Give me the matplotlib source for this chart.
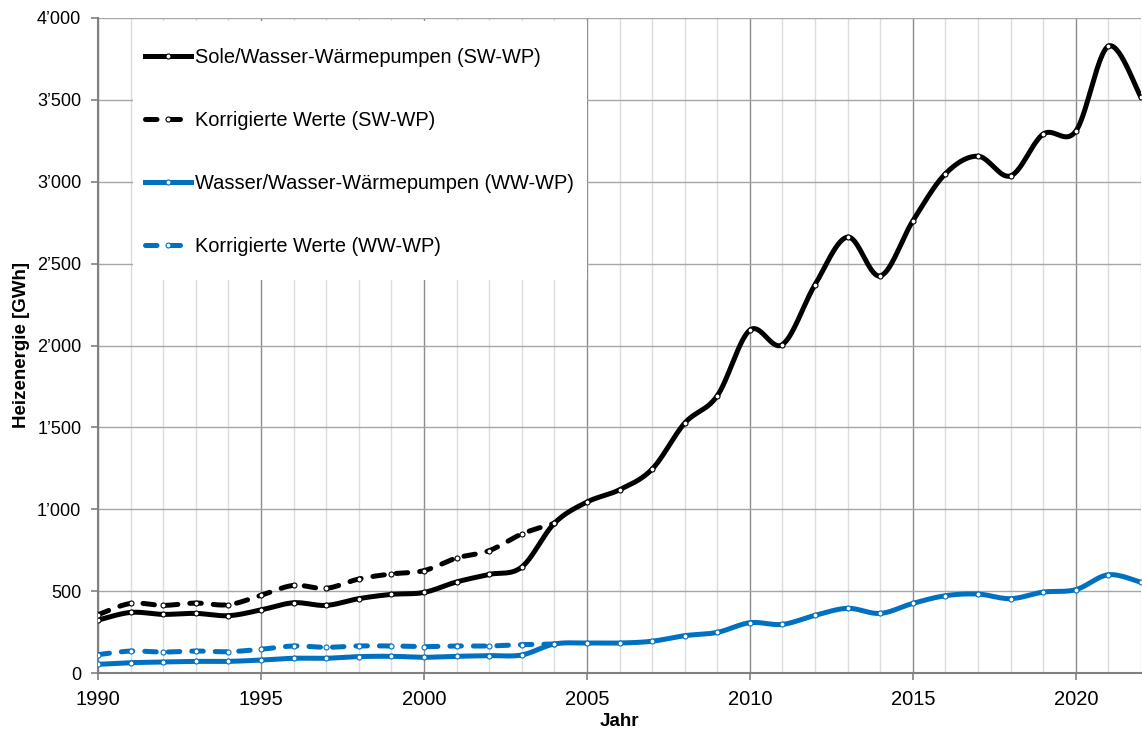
import numpy as np
import matplotlib
matplotlib.use('Agg')
import matplotlib.pyplot as plt
from matplotlib.lines import Line2D
from matplotlib.patches import Rectangle
from matplotlib.ticker import FuncFormatter, MultipleLocator

plt.rcParams['font.family'] = ['Liberation Sans', 'DejaVu Sans']

years = list(range(1990, 2023))
years_corr = list(range(1990, 2005))

# heating energy in GWh
sw = [323, 370, 358, 364, 350, 385, 429, 413, 454, 480, 492, 556, 602, 647, 914,
      1044, 1119, 1245, 1526, 1693, 2094, 2006, 2372, 2662, 2425, 2761, 3049,
      3156, 3036, 3291, 3309, 3828, 3517]
sw_corr = [356, 425, 413, 427, 417, 474, 535, 517, 574, 605, 625, 702, 747, 849, 914]
ww = [53, 63, 67, 71, 71, 79, 90, 90, 100, 102, 96, 102, 106, 110, 177, 183, 183,
      194, 228, 248, 307, 297, 352, 395, 364, 425, 472, 482, 454, 494, 509, 600, 554]
ww_corr = [112, 134, 128, 134, 130, 145, 165, 157, 165, 165, 161, 165, 165, 173, 177]

labels = ['Sole/Wasser-Wärmepumpen (SW-WP)', 'Korrigierte Werte (SW-WP)',
          'Wasser/Wasser-Wärmepumpen (WW-WP)', 'Korrigierte Werte (WW-WP)']

BLUE = '#0070C0'


def smooth(x, y, n=40):
    # Excel-like smoothed line: cubic bezier, control points from neighbours
    x = np.asarray(x, float)
    y = np.asarray(y, float)
    px = np.concatenate([[x[0]], x, [x[-1]]])
    py = np.concatenate([[y[0]], y, [y[-1]]])
    t = np.linspace(0, 1, n)[:, None]
    out = []
    for i in range(len(x) - 1):
        p0 = np.array([x[i], y[i]])
        p3 = np.array([x[i + 1], y[i + 1]])
        prev = np.array([px[i], py[i]])
        nxt = np.array([px[i + 3], py[i + 3]])
        c1 = p0 + (p3 - prev) / 6
        c2 = p3 - (nxt - p0) / 6
        seg = ((1 - t) ** 3) * p0 + 3 * ((1 - t) ** 2) * t * c1 + 3 * (1 - t) * t ** 2 * c2 + t ** 3 * p3
        out.append(seg if i == 0 else seg[1:])
    out = np.vstack(out)
    return out[:, 0], out[:, 1]


fig = plt.figure(figsize=(11.42, 7.33), dpi=100)
ax = fig.add_axes([98 / 1142, 60 / 733, 1043 / 1142, 655 / 733])

dash = (2.3, 2.4)
series = [
    (years, sw, 'black', '-'),
    (years_corr, sw_corr, 'black', '--'),
    (years, ww, BLUE, '-'),
    (years_corr, ww_corr, BLUE, '--'),
]
handles = []
for (x, y, c, ls), lab in zip(series, labels):
    sx, sy = smooth(x, y)
    line, = ax.plot(sx, sy, color=c, lw=3.6, solid_capstyle='round', zorder=3)
    if ls == '--':
        line.set_dashes(dash)
        line.set_dash_capstyle('round')
    ax.plot(x, y, ls='none', marker='o', ms=3.6, mfc='white', mec=c, mew=0.8, zorder=4)
    h = Line2D([], [], color=c, lw=3.6, marker='o', ms=3.6, mfc='white', mec=c, mew=0.8)
    if ls == '--':
        h.set_dashes(dash)
        h.set_dash_capstyle('round')
    handles.append(h)

ax.set_xlim(1990, 2022)
ax.set_ylim(0, 4000)
ax.xaxis.set_major_locator(MultipleLocator(5))
ax.xaxis.set_minor_locator(MultipleLocator(1))
ax.yaxis.set_major_locator(MultipleLocator(500))
ax.yaxis.set_major_formatter(FuncFormatter(lambda v, p: '{:,.0f}'.format(v).replace(',', '\u2019')))

ax.set_axisbelow(True)
ax.grid(which='major', axis='x', color='#8c8c8c', lw=1.0)
ax.grid(which='minor', axis='x', color='#dcdcdc', lw=1.0)
ax.grid(which='major', axis='y', color='#a6a6a6', lw=1.0)

for s in ['top', 'right']:
    ax.spines[s].set_visible(False)
for s in ['left', 'bottom']:
    ax.spines[s].set_color('#808080')
    ax.spines[s].set_linewidth(1.5)

ax.tick_params(which='major', direction='out', length=5, width=1.2, color='#808080',
               labelcolor='black')
ax.tick_params(axis='x', which='major', labelsize=14.5, pad=7)
ax.tick_params(axis='y', which='major', labelsize=13, pad=7)
ax.tick_params(which='minor', length=0)

ax.set_xlabel('Jahr', fontsize=13.5, fontweight='bold', labelpad=3)
ax.set_ylabel('Heizenergie [GWh]', fontsize=13.5, fontweight='bold', labelpad=5)

# white box behind the legend
ax.add_patch(Rectangle((0.0336, 0.6), 0.435, 0.396, transform=ax.transAxes,
                       facecolor='white', edgecolor='none', zorder=1))

ax.legend(handles, labels, loc='upper left', bbox_to_anchor=(0.045, 0.954),
          frameon=False, fontsize=14.4, handlelength=2.3, handletextpad=0.2,
          labelspacing=2.2, borderpad=0, borderaxespad=0, numpoints=1)

fig.savefig('out.png', dpi=100)
